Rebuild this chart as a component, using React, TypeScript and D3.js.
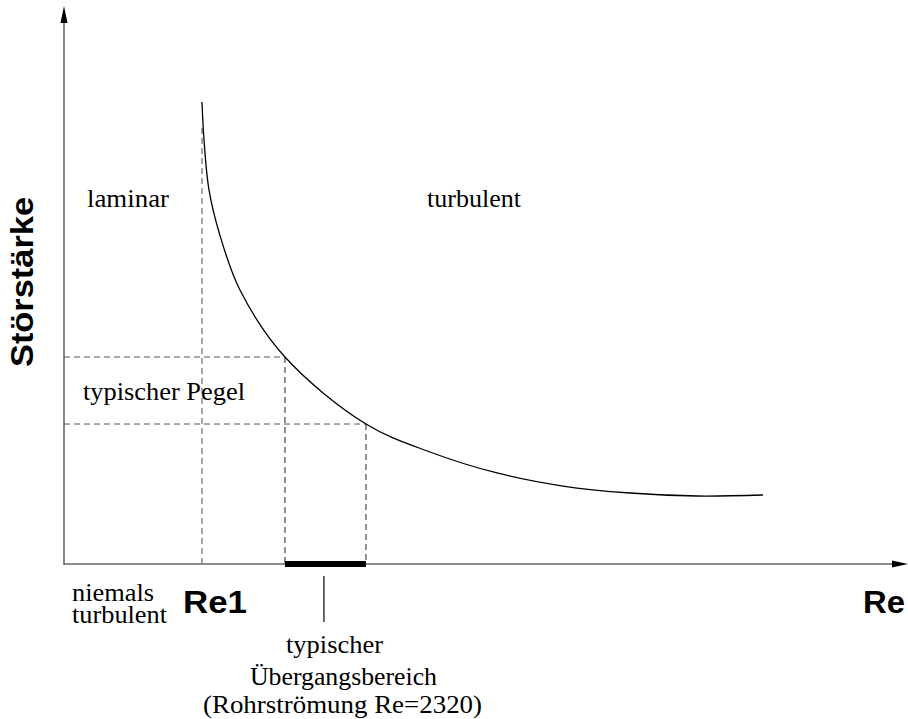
import React, { useEffect, useRef } from 'react';
import * as d3 from 'd3';

// curve (arbitrary units, 0..100 on both axes)
const reValues = [16.35, 16.59, 17.18, 18.36, 20.85, 26.18, 35.78, 43.36, 51.3, 59.12, 67.06, 75.0, 82.82];
const disturbance = [82.94, 76.12, 67.15, 59.61, 49.19, 37.16, 25.13, 20.11, 16.34, 14.0, 12.75, 12.21, 12.39];

const re1 = 16.35;
const levelRe = [26.18, 35.78];
const levelValues = [37.16, 25.13];
const transitionTick = 30.8;

const width = 908;
const height = 719;

const App: React.FC = () => {
  const svgRef = useRef<SVGSVGElement>(null);

  useEffect(() => {
    if (!svgRef.current) return;
    const svg = d3.select(svgRef.current);
    svg.selectAll('*').remove();

    const x = d3.scaleLinear().domain([0, 100]).range([64, 908]);
    const y = d3.scaleLinear().domain([0, 100]).range([564, 7]);

    const serif = "'Liberation Serif', 'Times New Roman', serif";
    const sans = "'Liberation Sans', Arial, sans-serif";

    // axes with arrow heads
    svg.append('line')
      .attr('x1', x(0)).attr('y1', y(0) + 1)
      .attr('x2', x(0)).attr('y2', y(100) + 14)
      .attr('stroke', '#666').attr('stroke-width', 1.6);
    svg.append('path')
      .attr('d', `M${x(0)},${y(100) - 1} L${x(0) - 3.5},${y(100) + 16} L${x(0) + 3.5},${y(100) + 16} Z`)
      .attr('fill', '#000');

    svg.append('line')
      .attr('x1', x(0)).attr('y1', y(0))
      .attr('x2', x(100) - 14).attr('y2', y(0))
      .attr('stroke', '#666').attr('stroke-width', 1.6);
    svg.append('path')
      .attr('d', `M${x(100)},${y(0)} L${x(100) - 16},${y(0) - 3.5} L${x(100) - 16},${y(0) + 3.5} Z`)
      .attr('fill', '#000');

    // Re1 vertical dashed
    svg.append('line')
      .attr('x1', x(re1)).attr('y1', y(0))
      .attr('x2', x(re1)).attr('y2', y(disturbance[0]) + 22)
      .attr('stroke', '#777').attr('stroke-width', 1.3)
      .attr('stroke-dasharray', '6,4');

    // typical level dashed lines
    levelRe.forEach((r, i) => {
      svg.append('line')
        .attr('x1', x(0)).attr('y1', y(levelValues[i]))
        .attr('x2', x(r)).attr('y2', y(levelValues[i]))
        .attr('stroke', '#555').attr('stroke-width', 1)
        .attr('stroke-dasharray', '6,4');
      svg.append('line')
        .attr('x1', x(r)).attr('y1', y(levelValues[i]))
        .attr('x2', x(r)).attr('y2', y(0))
        .attr('stroke', '#222').attr('stroke-width', 1)
        .attr('stroke-dasharray', '6,4');
    });

    // transition range bar
    svg.append('line')
      .attr('x1', x(levelRe[0])).attr('y1', y(0))
      .attr('x2', x(levelRe[1])).attr('y2', y(0))
      .attr('stroke', '#000').attr('stroke-width', 6);

    svg.append('line')
      .attr('x1', x(transitionTick)).attr('y1', y(0) + 12)
      .attr('x2', x(transitionTick)).attr('y2', y(0) + 58)
      .attr('stroke', '#000').attr('stroke-width', 1.2);

    // curve
    const line = d3.line<number>()
      .x((_, i) => x(reValues[i]))
      .y(d => y(d))
      .curve(d3.curveCatmullRom.alpha(0.5));
    svg.append('path')
      .datum(disturbance)
      .attr('d', line)
      .attr('fill', 'none')
      .attr('stroke', '#000')
      .attr('stroke-width', 1.3);

    // labels
    const serifLabels: [string, number, number, number][] = [
      ['laminar', 87, 207, 82],
      ['turbulent', 427, 207, 94],
      ['typischer Pegel', 83, 400, 162],
      ['niemals', 72, 601, 82],
      ['turbulent', 72, 623, 95],
      ['typischer', 286, 653, 97],
      ['Übergangsbereich', 250, 685, 187],
      ['(Rohrströmung Re=2320)', 203, 713, 279],
    ];
    serifLabels.forEach(([t, lx, ly, len]) => {
      svg.append('text')
        .attr('x', lx).attr('y', ly)
        .attr('font-family', serif)
        .attr('font-size', 25)
        .attr('textLength', len)
        .attr('lengthAdjust', 'spacingAndGlyphs')
        .text(t);
    });

    const boldLabels: [string, number, number, number][] = [
      ['Re1', 183, 613, 64],
      ['Re', 863, 613, 42],
    ];
    boldLabels.forEach(([t, lx, ly, len]) => {
      svg.append('text')
        .attr('x', lx).attr('y', ly)
        .attr('font-family', sans)
        .attr('font-weight', 'bold')
        .attr('font-size', 32)
        .attr('textLength', len)
        .attr('lengthAdjust', 'spacingAndGlyphs')
        .text(t);
    });

    svg.append('text')
      .attr('transform', 'translate(33,367) rotate(-90)')
      .attr('font-family', sans)
      .attr('font-weight', 'bold')
      .attr('font-size', 31)
      .attr('textLength', 170)
      .attr('lengthAdjust', 'spacingAndGlyphs')
      .text('Störstärke');
  }, []);

  return (
    <svg
      ref={svgRef}
      width={width}
      height={height}
      style={{ position: 'absolute', left: 0, top: 0, background: '#fff', display: 'block' }}
    />
  );
};

export default App;
